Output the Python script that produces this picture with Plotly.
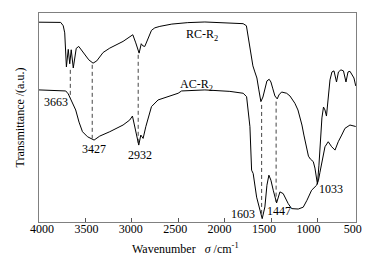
import plotly.graph_objects as go

# ---- data (wavenumber cm^-1, transmittance a.u.) ----
rc_wn = [4000, 3766, 3739, 3723, 3705, 3685, 3669, 3653, 3631, 3599, 3572, 3518, 3464, 3418,
         3378, 3310, 3238, 3095, 3004, 2990, 2958, 2922, 2899, 2883, 2861, 2825, 2789, 2753,
         2699, 2570, 2398, 2214, 1945, 1802, 1767, 1740, 1719, 1697, 1676, 1654, 1633, 1611,
         1589, 1568, 1546, 1522, 1503, 1482, 1460, 1435, 1417, 1388, 1363, 1334, 1298, 1245,
         1212, 1191, 1169, 1148, 1118, 1099, 1078, 1047, 1029, 1002, 986, 970, 954, 937, 921,
         905, 889, 867, 846, 824, 797, 776, 749, 722, 695, 673, 652, 630, 609, 590]
rc_t = [95.6, 95.5, 93.9, 90.5, 74.2, 82.6, 75.7, 82.4, 73.7, 83.1, 84.0, 80.9, 77.6, 76.0,
        77.1, 81.1, 83.2, 86.4, 89.1, 89.6, 85.7, 80.8, 85.3, 84.3, 84.0, 88.1, 91.7, 92.9,
        93.6, 94.7, 95.4, 95.7, 95.3, 94.9, 93.9, 87.2, 80.0, 74.7, 71.8, 68.9, 63.2, 57.6,
        59.8, 64.1, 67.5, 68.3, 67.0, 63.7, 60.3, 58.9, 60.8, 62.2, 62.0, 61.6, 60.3, 56.8,
        53.6, 50.4, 46.4, 41.6, 36.3, 31.5, 30.1, 28.9, 25.8, 18.1, 27.2, 39.2, 49.8, 55.0, 53.6,
        50.7, 58.4, 68.0, 71.8, 72.3, 67.0, 71.8, 72.8, 72.3, 67.0, 71.8, 72.1, 70.4, 68.9, 65.1]

ac_wn = [4000, 3741, 3712, 3685, 3658, 3637, 3605, 3569, 3532, 3478, 3407, 3346, 3238, 3095,
         3023, 2994, 2969, 2947, 2926, 2904, 2879, 2850, 2825, 2789, 2718, 2610, 2502, 2465,
         2214, 1945, 1802, 1765, 1746, 1729, 1711, 1694, 1657, 1622, 1597, 1568, 1546, 1525,
         1503, 1478, 1442, 1406, 1371, 1317, 1280, 1209, 1155, 1115, 1065, 1011, 991, 975,
         957, 921, 886, 849, 813, 778, 741, 706, 652, 590]
ac_t = [63.2, 62.9, 62.7, 61.3, 58.9, 57.0, 53.6, 47.8, 43.2, 40.8, 39.2, 41.1, 43.2, 46.4,
        48.8, 50.7, 45.6, 40.2, 36.8, 41.6, 40.0, 45.6, 49.8, 55.2, 58.4, 60.0, 61.6, 62.7,
        63.2, 62.5, 61.6, 60.0, 53.6, 45.6, 24.8, 23.2, 11.9, 5.6, 1.6, 7.2, 17.6, 22.4,
        20.0, 15.2, 9.1, 14.4, 13.6, 8.8, 6.4, 6.2, 7.1, 10.4, 15.2, 17.6, 20.0, 23.8,
        28.0, 36.0, 38.4, 36.0, 34.4, 38.4, 41.6, 44.8, 46.4, 45.7]

# marked peaks and dashed guide lines (from RC curve down to AC curve / label)
peak_wn = [3663, 3427, 2932, 1603, 1447]
dash_top = [72.8, 75.2, 80.0, 56.0, 57.6]
dash_bottom = [59.3, 40.0, 37.6, 4.0, 9.6]

tick_vals = [4000, 3500, 3000, 2500, 2000, 1500, 1000, 500]
tick_text = [str(v) for v in tick_vals]

FONT = "Liberation Serif, Times New Roman, serif"

fig = go.Figure()

dx, dy = [], []
for w, t, b in zip(peak_wn, dash_top, dash_bottom):
    dx += [w, w, None]
    dy += [t, b, None]
fig.add_trace(go.Scatter(x=dx, y=dy, mode="lines",
                         line=dict(color="#444444", width=1, dash="4px,3px"),
                         hoverinfo="skip", showlegend=False))
fig.add_trace(go.Scatter(x=rc_wn, y=rc_t, mode="lines",
                         line=dict(color="black", width=1), name="RC-R2", showlegend=False))
fig.add_trace(go.Scatter(x=ac_wn, y=ac_t, mode="lines",
                         line=dict(color="black", width=1), name="AC-R2", showlegend=False))
# invisible trace to activate the label axis
fig.add_trace(go.Scatter(x=[4000], y=[None], xaxis="x2", mode="markers",
                         marker=dict(opacity=0), showlegend=False, hoverinfo="skip"))

fig.update_layout(
    width=375, height=264,
    margin=dict(l=39, r=19, t=13, b=42, autoexpand=False),
    paper_bgcolor="white", plot_bgcolor="white",
    font=dict(family=FONT, size=12, color="black"),
    xaxis=dict(range=[4000, 587], showgrid=False, zeroline=False, automargin=False,
               showline=True, linecolor="#808080", linewidth=1, mirror=True,
               ticks="inside", ticklen=4, tickcolor="#555555",
               tickvals=tick_vals[:-1], showticklabels=False),
    xaxis2=dict(range=[4034, 464], overlaying="x", anchor="y", side="bottom",
                automargin=False,
                showgrid=False, zeroline=False, showline=False, ticks="",
                tickvals=tick_vals, ticktext=tick_text, ticklabelstandoff=-2,
                tickfont=dict(family=FONT, size=12, color="black")),
    yaxis=dict(range=[0, 100], showgrid=False, zeroline=False, automargin=False,
               showline=True, linecolor="#808080", linewidth=1, mirror=True,
               ticks="", showticklabels=False,
               title=dict(text="Transmittance /(a.u.)", standoff=10,
                          font=dict(family=FONT, size=12))),
)

labels = [
    ("3663", 3663, 57.6, "right"),
    ("3427", 3411, 35.0, "center"),
    ("2932", 2915, 31.9, "center"),
    ("1603", 1650, 3.8, "right"),
    ("1447", 1570, 5.1, "left"),
    ("1033", 1010, 15.8, "left"),
    ("RC-R<sub>2</sub>", 2247, 89.6, "center"),
    ("AC-R<sub>2</sub>", 2300, 65.6, "center"),
]
for txt, x, y, xa in labels:
    fig.add_annotation(text=txt, x=x, y=y, xref="x", yref="y", xanchor=xa,
                       yanchor="middle", showarrow=False,
                       font=dict(family=FONT, size=12, color="black"))

fig.add_annotation(text="Wavenumber&nbsp;&nbsp;&nbsp;<i>σ</i> /cm<sup>-1</sup>",
                   x=0.462, y=-0.126, xref="paper", yref="paper",
                   xanchor="center", yanchor="middle", showarrow=False,
                   font=dict(family=FONT, size=12, color="black"))

fig.write_html("out.html", config={"displayModeBar": False},
               post_script="document.body.style.margin='0px';document.body.style.padding='0px';")
